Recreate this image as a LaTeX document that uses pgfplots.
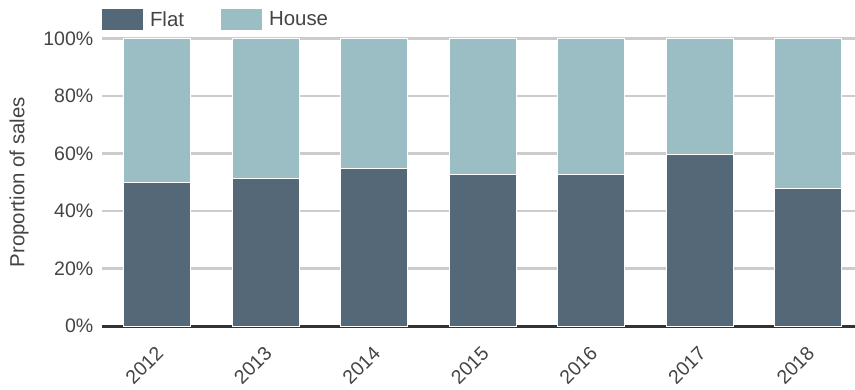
\documentclass[border=0pt]{standalone}
\usepackage{pgfplots}
\pgfplotsset{compat=1.18}
\usepackage{fontspec}
\setmainfont{Liberation Sans}
\definecolor{flat}{HTML}{546878}
\definecolor{house}{HTML}{9BBDC4}
\definecolor{txt}{HTML}{444444}
\definecolor{gridc}{HTML}{CCCCCC}
\definecolor{axisc}{HTML}{333333}
\begin{document}
\begin{tikzpicture}[x=1bp,y=1bp]
\useasboundingbox (0,0) rectangle (855,389);
\begin{axis}[
  at={(102bp,63bp)}, anchor=south west,
  scale only axis, width=753bp, height=287.5bp,
  ybar stacked, bar width=67bp,
  xmin=-0.51, xmax=6.43, ymin=0, ymax=100,
  enlargelimits=false, clip=false,
  xtick={0,1,2,3,4,5,6},
  xticklabels={2012,2013,2014,2015,2016,2017,2018},
  ytick={0,20,40,60,80,100},
  yticklabels={0\%,20\%,40\%,60\%,80\%,100\%},
  major tick length=0,
  axis x line*=bottom, axis y line*=left,
  x axis line style={draw=none},
  y axis line style={draw=none},
  ymajorgrids, grid style={gridc, line width=2.6bp},
  tick label style={font=\fontsize{19.6}{22}\selectfont, text=txt},
  yticklabel style={anchor=east, inner sep=0pt, xshift=-8.5bp},
  xticklabel style={inner sep=0pt, xshift=2.5bp, yshift=-24bp, rotate=45, anchor=east},
  ylabel={Proportion of sales},
  every axis y label/.style={at={(rel axis cs:0,0.5)}, xshift=-83bp, rotate=90, anchor=center, font=\fontsize{20.5}{23}\selectfont, text=txt},
  legend style={at={(rel axis cs:0,1)}, anchor=south west, yshift=8.5bp, draw=none, fill=none,
    inner sep=0pt, outer sep=0pt, font=\fontsize{20.5}{23}\selectfont, text=txt,
    nodes={inner sep=0pt},
    /tikz/every odd column/.append style={column sep=7bp},
    /tikz/every even column/.append style={column sep=37bp}},
  legend columns=2,
  legend image code/.code={\fill[#1, draw=none] (0bp,-10.5bp) rectangle (41bp,10.5bp);},
]
\addplot[fill=flat, draw=white, line width=1bp] coordinates {(0,50) (1,51.3) (2,54.8) (3,52.8) (4,52.8) (5,59.6) (6,47.8)};
\addplot[fill=house, draw=white, line width=1bp] coordinates {(0,50) (1,48.7) (2,45.2) (3,47.2) (4,47.2) (5,40.4) (6,52.2)};
\legend{Flat, House}
\draw[axisc, line width=3bp] ([yshift=-0.6bp]axis cs:-0.51,0) -- ([yshift=-0.6bp]axis cs:6.43,0);
\end{axis}
\end{tikzpicture}
\end{document}
